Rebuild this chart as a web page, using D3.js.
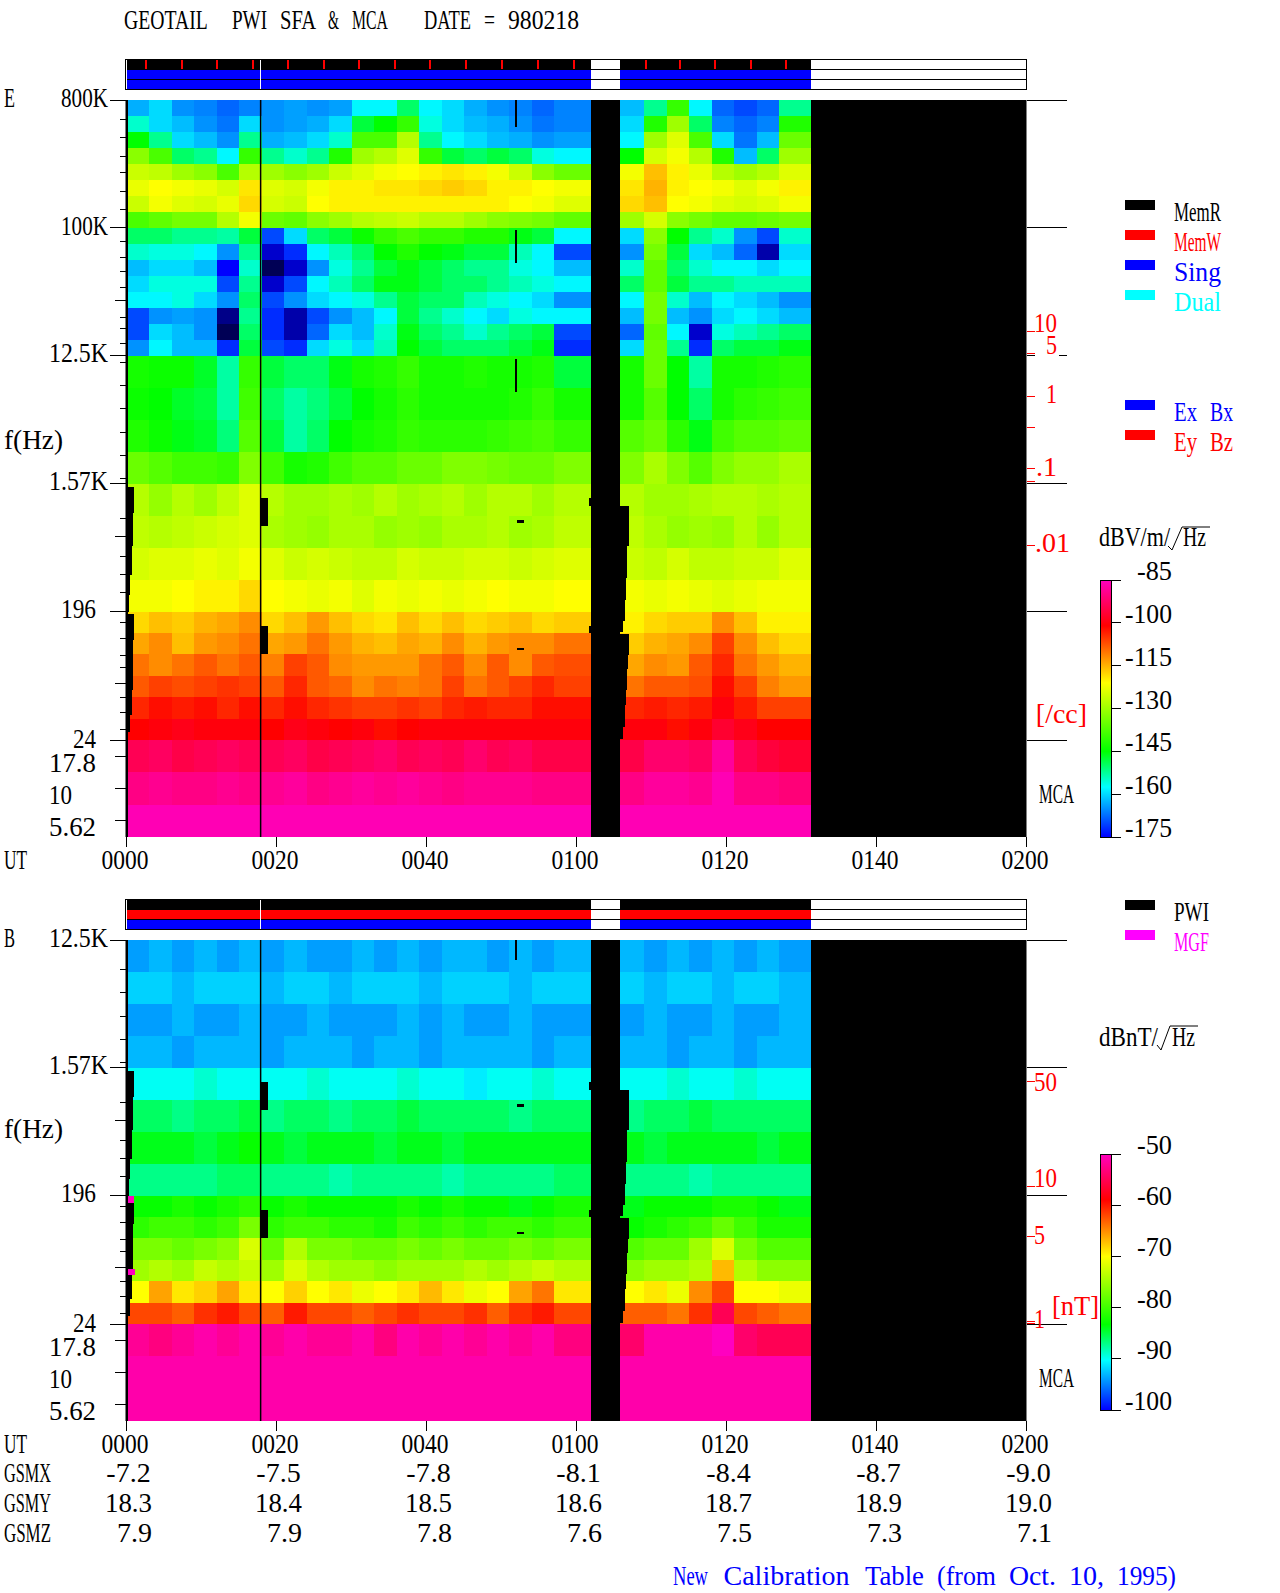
<!DOCTYPE html>
<html>
<head>
<meta charset="utf-8">
<style>
  body { margin: 0; background: #fff; }
  text { font-family: "Liberation Serif", serif; font-size: 28px; }
</style>
<script src="https://cdn.jsdelivr.net/npm/d3@7"></script>
</head>
<body>
<svg id="chart" width="1280" height="1593"></svg>
<script>
/* time columns of the spectrograms, minutes from 0000 UT */
const colStart = [0,3,6,9,12,15,18,21,24,27,30,33,36,39,42,45,48,51,54,57,65.8,69,72,75,78,81,84,87];
const colEnd = [3,6,9,12,15,18,21,24,27,30,33,36,39,42,45,48,51,54,57,61.9,69,72,75,78,81,84,87,91.3];

/* frequency row edges, Hz */
const freqEdges = [800000,617000,476000,367000,283000,218000,168000,130000,100000,77100,59500,45900,35400,27300,21000,16200,12500,7430,4420,2630,1570,934,556,330,196,139,98,69,49,34.6,24.414];
const bFreqEdges = [12500,7430,4420,2630,1570,934,556,330,196,139,98,69,49,34.6,24.414];
const mcaBands = ['17.8','10','5.62'];

/* E field, dBV/m/rtHz, one row per frequency band, top to bottom */
const eDb = [
[-163,-160,-165,-166,-168,-166,-165,-164,-165,-164,-158,-158,-150,-158,-160,-163,-165,-166,-168,-166,-162,-152,-140,-158,-168,-170,-168,-152],
[-155,-160,-162,-165,-167,-160,-165,-164,-163,-160,-148,-145,-140,-156,-160,-162,-163,-165,-167,-166,-160,-142,-130,-150,-166,-168,-166,-142],
[-145,-152,-160,-162,-165,-152,-163,-162,-160,-155,-138,-138,-128,-152,-158,-160,-162,-163,-165,-164,-158,-130,-124,-138,-160,-167,-162,-135],
[-132,-138,-150,-152,-158,-140,-152,-155,-152,-142,-130,-128,-124,-140,-148,-150,-148,-150,-156,-158,-145,-125,-122,-128,-142,-162,-150,-130],
[-126,-127,-130,-132,-138,-128,-130,-132,-130,-126,-124,-122,-121,-120,-119,-120,-122,-126,-132,-135,-122,-116,-120,-123,-128,-130,-128,-124],
[-123,-121,-122,-123,-125,-119,-124,-125,-122,-120,-120,-119,-119,-118,-117,-118,-120,-120,-121,-122,-119,-115,-120,-121,-122,-124,-122,-120],
[-126,-122,-124,-125,-123,-118,-125,-126,-121,-120,-120,-120,-120,-120,-120,-120,-120,-121,-122,-124,-118,-116,-121,-122,-124,-125,-124,-122],
[-138,-136,-134,-134,-128,-122,-135,-136,-132,-130,-128,-127,-126,-128,-128,-130,-132,-133,-134,-136,-130,-125,-132,-134,-136,-136,-135,-134],
[-150,-150,-152,-152,-153,-148,-170,-160,-150,-148,-144,-140,-138,-140,-140,-142,-142,-146,-148,-158,-160,-132,-145,-152,-155,-165,-170,-155],
[-155,-156,-156,-158,-165,-152,-178,-172,-158,-154,-150,-145,-142,-145,-146,-148,-148,-154,-158,-170,-165,-134,-148,-160,-162,-168,-180,-160],
[-162,-160,-160,-162,-175,-155,-185,-178,-165,-156,-152,-148,-146,-148,-150,-152,-152,-156,-158,-162,-155,-136,-150,-155,-158,-158,-160,-158],
[-160,-156,-156,-156,-170,-152,-178,-170,-158,-154,-150,-146,-146,-148,-150,-150,-152,-154,-156,-158,-150,-136,-148,-152,-152,-154,-154,-154],
[-158,-158,-156,-160,-165,-150,-170,-165,-160,-158,-156,-152,-148,-150,-150,-154,-156,-158,-160,-165,-158,-134,-155,-162,-158,-160,-162,-165],
[-170,-165,-164,-165,-182,-152,-172,-180,-170,-165,-162,-158,-148,-152,-155,-158,-160,-156,-158,-158,-162,-134,-162,-165,-160,-158,-160,-162],
[-170,-160,-162,-165,-185,-150,-172,-180,-168,-160,-162,-155,-146,-150,-152,-155,-152,-150,-148,-170,-168,-136,-158,-178,-156,-154,-152,-150],
[-165,-158,-162,-162,-172,-148,-170,-172,-160,-156,-160,-154,-145,-148,-150,-150,-150,-148,-146,-172,-160,-135,-152,-172,-150,-148,-148,-146],
[-143,-144,-144,-147,-153,-140,-148,-150,-150,-146,-143,-142,-140,-143,-143,-142,-143,-143,-142,-148,-143,-135,-145,-153,-143,-143,-142,-141],
[-144,-145,-147,-148,-153,-139,-150,-153,-151,-148,-145,-143,-141,-143,-143,-143,-143,-142,-140,-143,-143,-137,-145,-150,-143,-141,-140,-139],
[-142,-144,-146,-147,-151,-137,-148,-153,-150,-145,-143,-142,-140,-141,-141,-141,-140,-139,-138,-140,-137,-135,-141,-146,-139,-137,-137,-136],
[-135,-137,-139,-139,-140,-133,-139,-143,-142,-139,-137,-137,-135,-135,-133,-133,-134,-135,-135,-133,-133,-129,-133,-137,-133,-131,-131,-129],
[-128,-131,-128,-130,-127,-124,-128,-130,-130,-129,-130,-128,-130,-129,-128,-130,-128,-128,-130,-128,-128,-130,-130,-129,-128,-128,-129,-128],
[-127,-128,-127,-126,-125,-124,-129,-130,-131,-129,-129,-131,-130,-131,-129,-129,-128,-130,-129,-127,-127,-129,-131,-130,-131,-128,-131,-128],
[-125,-124,-124,-123,-124,-122,-124,-126,-125,-126,-127,-127,-125,-126,-126,-125,-125,-126,-125,-124,-126,-127,-125,-127,-127,-126,-126,-124],
[-122,-122,-121,-120,-120,-118,-121,-122,-123,-122,-124,-122,-123,-122,-123,-122,-121,-122,-122,-121,-122,-123,-122,-123,-124,-123,-122,-122],
[-118,-116,-117,-115,-114,-112,-118,-116,-113,-116,-118,-119,-116,-118,-116,-118,-117,-116,-118,-117,-120,-118,-117,-117,-112,-116,-120,-120],
[-114,-112,-116,-113,-112,-110,-114,-113,-110,-113,-115,-116,-114,-115,-112,-115,-113,-112,-112,-110,-117,-115,-114,-112,-106,-112,-116,-118],
[-110,-112,-110,-108,-110,-108,-111,-106,-108,-112,-113,-113,-113,-110,-108,-112,-108,-112,-108,-107,-114,-112,-113,-108,-104,-110,-113,-115],
[-108,-106,-107,-106,-105,-106,-108,-104,-108,-109,-112,-110,-111,-110,-106,-110,-108,-106,-104,-106,-110,-108,-108,-107,-102,-106,-111,-113],
[-104,-102,-103,-102,-104,-102,-104,-102,-104,-105,-106,-106,-105,-106,-104,-103,-104,-104,-102,-102,-104,-103,-104,-103,-100,-103,-106,-106],
[-101,-100,-99,-100,-100,-100,-101,-99,-100,-101,-100,-102,-101,-100,-100,-100,-100,-100,-100,-100,-100,-100,-102,-100,-97,-99,-101,-101]
];
const eMcaDb = [
[-94,-93,-95,-94,-93,-94,-94,-93,-95,-94,-93,-92,-94,-93,-94,-92,-94,-93,-95,-95,-95,-92,-92,-93,-88,-94,-96,-97],
[-90,-89,-90,-90,-89,-90,-89,-88,-90,-89,-88,-89,-88,-89,-90,-89,-89,-89,-90,-90,-90,-88,-88,-89,-86,-90,-90,-91],
[-86,-86,-86,-86,-86,-86,-86,-86,-86,-86,-86,-86,-86,-86,-86,-86,-86,-86,-86,-86,-86,-86,-86,-86,-86,-86,-86,-86]
];

/* B field, dBnT/rtHz */
const bDb = [
[-94,-93,-94,-93,-94,-93,-94,-93,-94,-94,-93,-94,-93,-94,-93,-93,-94,-93,-94,-93,-93,-94,-93,-94,-93,-94,-93,-94],
[-92,-92,-93,-92,-92,-92,-93,-92,-92,-93,-92,-92,-92,-93,-92,-92,-92,-93,-92,-92,-92,-93,-92,-92,-93,-92,-92,-93],
[-94,-94,-93,-94,-94,-93,-94,-94,-93,-94,-94,-94,-93,-94,-93,-94,-94,-93,-94,-94,-94,-93,-94,-94,-93,-94,-94,-93],
[-93,-93,-94,-93,-93,-93,-94,-93,-93,-93,-94,-93,-93,-94,-93,-93,-93,-93,-94,-93,-93,-93,-94,-93,-93,-94,-93,-93],
[-90,-90,-90,-89,-90,-90,-90,-90,-89,-90,-90,-90,-89,-90,-90,-91,-90,-90,-89,-90,-90,-90,-89,-90,-90,-89,-90,-90],
[-86,-86,-87,-86,-86,-85,-87,-86,-86,-87,-86,-86,-85,-86,-86,-86,-86,-87,-86,-86,-87,-86,-86,-85,-86,-86,-86,-86],
[-84,-84,-84,-85,-84,-83,-84,-85,-84,-84,-84,-85,-84,-84,-85,-84,-84,-84,-84,-84,-84,-85,-84,-84,-84,-84,-85,-84],
[-87,-87,-87,-87,-86,-86,-87,-87,-87,-88,-87,-87,-87,-87,-88,-87,-87,-87,-87,-86,-87,-87,-87,-88,-87,-87,-87,-87],
[-83,-83,-82,-83,-82,-81,-83,-82,-83,-83,-83,-83,-82,-83,-82,-83,-83,-84,-83,-82,-84,-83,-83,-83,-82,-82,-83,-84],
[-81,-80,-80,-81,-80,-77,-81,-80,-80,-81,-81,-82,-80,-81,-80,-81,-80,-80,-81,-80,-83,-82,-81,-80,-78,-80,-82,-82],
[-77,-77,-78,-77,-76,-72,-78,-74,-77,-77,-78,-78,-77,-78,-77,-78,-78,-77,-78,-77,-79,-78,-78,-75,-72,-77,-79,-79],
[-75,-74,-75,-73,-74,-73,-75,-72,-74,-75,-75,-76,-75,-75,-75,-74,-75,-74,-73,-74,-76,-75,-75,-74,-67,-74,-76,-76],
[-70,-66,-69,-68,-66,-69,-70,-68,-70,-69,-71,-70,-69,-67,-69,-71,-70,-66,-64,-69,-70,-69,-71,-65,-62,-70,-70,-71],
[-62,-62,-63,-61,-60,-62,-63,-60,-62,-62,-63,-62,-61,-62,-62,-61,-63,-61,-60,-62,-63,-63,-64,-61,-55,-62,-63,-64]
];
const bMcaDb = [
[-52,-53,-52,-51,-52,-51,-52,-51,-52,-52,-51,-53,-51,-52,-51,-52,-51,-52,-51,-53,-54,-51,-51,-51,-50,-54,-55,-55],
[-51,-51,-51,-51,-51,-51,-51,-51,-51,-51,-51,-51,-51,-51,-51,-51,-51,-51,-51,-51,-51,-51,-51,-51,-51,-51,-51,-51],
[-51,-51,-51,-51,-51,-51,-51,-51,-51,-51,-51,-51,-51,-51,-51,-51,-51,-51,-51,-51,-51,-51,-51,-51,-51,-51,-51,-51]
];

/* no-data blocks in both panels: [t0, t1, fHigh, fLow] */
const dropouts = [
[0,1,1500,980],[0,.87,980,744],[0,.8,744,574],[0,.67,574,358],[0,.53,358,259],[0,.35,259,196],
[0,1,189,124],[0,.93,124,82],[0,.8,82,55],[0,.67,55,36.6],[0,.47,36.6,28],[0,.2,28,24.414],
[17.85,18.9,1250,793],[17.85,18.9,155,99],[61.6,61.9,1250,1100],[61.6,61.9,155,138],
[65.8,67,1100,574],[65.8,66.73,574,340],[65.8,66.6,340,236],[65.8,66.47,236,170],[65.8,66.2,170,140],
[65.8,67,137,97],[65.8,66.87,97,77],[65.8,66.73,77,55],[65.8,66.6,55,43],[65.8,66.47,43,30],[65.8,66.2,30,25],
[52,53,875,835],[52,53,108,105]
];
/* thin dropouts of one panel only */
const eThinDropouts = [[51.8,52,800000,520000],[51.8,52,97000,57000],[51.8,52,12000,7000]];
const bThinDropouts = [[51.8,52,12500,9000]];
/* overflow blocks at the start of the B sweep */
const bHotBlocks = [[.1,1,196,175],[.1,1.1,60,54]];
const spikeTime = 17.85;

/* mode bars */
const barSpans = [[0,61.9],[65.8,91.3]];
const memTicks = [2.6,7.4,12.1,16.9,21.5,26.3,31,35.8,40.5,45.3,50,54.9,59.7,69.2,73.8,78.5,83.2,87.9];

/* axes */
const timeTicks = [0,20,40,60,80,100,120];
const timeLabels = ['0000','0020','0040','0100','0120','0140','0200'];
const gsmx = ['-7.2','-7.5','-7.8','-8.1','-8.4','-8.7','-9.0'];
const gsmy = ['18.3','18.4','18.5','18.6','18.7','18.9','19.0'];
const gsmz = ['7.9','7.9','7.8','7.6','7.5','7.3','7.1'];
const majorFreq = [800000,100000,12500,1570,196,24.414];
const minorFreq = [587000,438000,322000,248000,182000,136000,80000,62000,49000,38000,23500,19400,15200,11300,7800,5300,3600,2500,1700,890,479,358,267,164,126,97,79,49,38,29];
const longFreq = [31000,664,61];
const eFreqLabels = [['800K',800000,61,7],['100K',100000,61,7],['12.5K',12500,49,6],['1.57K',1570,49,6],['196',196,61,6],['24',24.414,73,8]];
const bFreqLabels = [['12.5K',12500,49,7],['1.57K',1570,49,6],['196',196,61,6],['24',24.414,73,8]];
const eRedTicks = [18500,13100,6500,3900,2000,1640,580];
const eRedLabels = [['10',1034,332],['5',1046,354],['1',1046,403],['.1',1035,476],['.01',1035,552],['[/cc]',1032,723]];
const bRedTicks = [1250,227,101,25.3,24.6];
const bRedLabels = [['50',1034,1091],['10',1034,1187],['5',1034,1244],['1',1034,1328],['[nT]',1052,1315]];

/* colour bars */
const eBarTicks = [-85,-100,-115,-130,-145,-160,-175];
const bBarTicks = [-50,-60,-70,-80,-90,-100];
const barColors = ['#000000','#0000ff','#00ffff','#00ff00','#ffff00','#ff0000','#ff00c0'];
const eColorStops = [-190,-175,-157.5,-145,-121,-101,-85];
const bColorStops = [-108,-100,-90.3,-83.3,-70,-58.9,-50];

/* legends */
const legendTop = [['MemR','#000000',200],['MemW','#ff0000',230],['Sing','#0000ff',260],['Dual','#00ffff',290],['Ex Bx','#0000ff',400],['Ey Bz','#ff0000',430]];
const legendBottom = [['PWI','#000000',900],['MGF','#ff00ff',930]];

const CELL = 12;
const svg = d3.select('#chart');
const ctx = document.createElement('canvas').getContext('2d');
ctx.font = '28px "Liberation Serif"';

// Fixed pitch text: each word is squeezed into its cells, like the plotter font.
function label(str, x, y, color) {
    const t = svg.append('text').attr('y', y).attr('fill', color || '#000');
    const re = /\S+|\s+/g;
    let m;
    while ((m = re.exec(str)) !== null) {
        const word = m[0];
        if (!word.trim()) {
            t.append('tspan').text(' ');
            continue;
        }
        const cells = word.length * CELL - 1;
        const len = word === '-' ? cells : Math.min(ctx.measureText(word).width, cells);
        t.append('tspan')
            .attr('x', x + m.index * CELL + (cells - len) / 2)
            .attr('textLength', len)
            .attr('lengthAdjust', 'spacingAndGlyphs')
            .text(word);
    }
    return t;
}

function hline(x1, x2, y, color) {
    svg.append('line').attr('x1', x1).attr('x2', x2).attr('y1', y).attr('y2', y)
        .attr('stroke', color || '#000').attr('shape-rendering', 'crispEdges');
}

const x = d3.scaleLinear().domain([0, 120]).range([126.5, 1026.5]);

function cells(rows, y0, y1, color) {
    rows.forEach((row, r) => {
        svg.append('g').selectAll('rect').data(row).enter().append('rect')
            .attr('x', (d, i) => x(colStart[i]))
            .attr('width', (d, i) => x(colEnd[i]) - x(colStart[i]))
            .attr('y', y0(r))
            .attr('height', y1(r) - y0(r))
            .attr('fill', (d) => color(d))
            .attr('shape-rendering', 'crispEdges');
    });
}

function blocks(list, y, fill) {
    svg.append('g').selectAll('rect').data(list).enter().append('rect')
        .attr('x', (d) => x(d[0])).attr('width', (d) => x(d[1]) - x(d[0]))
        .attr('y', (d) => y(d[2])).attr('height', (d) => y(d[3]) - y(d[2]))
        .attr('fill', fill).attr('shape-rendering', 'crispEdges');
}

function panel(opt) {
    const y = d3.scaleLog().domain([opt.edges[0], 24.414]).range([opt.top, opt.mid]);
    const band = d3.scaleBand().domain(mcaBands).range([opt.mid, opt.bottom]);
    const color = d3.scaleLinear().domain(opt.stops).range(barColors).clamp(true);

    svg.append('rect').attr('x', x(0)).attr('y', opt.top).attr('width', x(120) - x(0))
        .attr('height', opt.bottom - opt.top).attr('fill', '#000');
    cells(opt.rows, (r) => y(opt.edges[r]), (r) => y(opt.edges[r + 1]), color);
    cells(opt.mca, (r) => band(mcaBands[r]), (r) => band(mcaBands[r]) + band.bandwidth(), color);

    blocks(dropouts, y, '#000');
    blocks(opt.thin, y, '#000');
    if (opt.hot) blocks(opt.hot, y, '#ff00c0');

    // left border and the 0018 spike
    svg.append('rect').attr('x', x(0) - 1).attr('y', opt.top).attr('width', 2.5)
        .attr('height', opt.bottom - opt.top).attr('fill', '#000');
    svg.append('rect').attr('x', x(spikeTime) - 0.5).attr('y', opt.top).attr('width', 1.5)
        .attr('height', opt.bottom - opt.top).attr('fill', '#000');

    // frequency ticks
    majorFreq.filter((f) => f <= opt.edges[0]).forEach((f) => {
        hline(110, 126, y(f));
        hline(x(120), 1067, y(f));
    });
    hline(110, 126, opt.top);
    minorFreq.filter((f) => f < opt.edges[0] * 0.88).forEach((f) => hline(120, 126, y(f)));
    longFreq.filter((f) => f < opt.edges[0]).forEach((f) => hline(115, 126, y(f)));
    mcaBands.forEach((b) => hline(115, 126, band(b) + band.bandwidth() / 2));
    opt.freqLabels.forEach((d) => label(d[0], d[2], y(d[1]) + d[3]));
    mcaBands.forEach((b) => label(b, 49, band(b) + band.bandwidth() / 2 + 15.5));

    // density or field scale in red
    if (opt.hole) {
        svg.append('rect').attr('x', opt.hole[0]).attr('y', opt.hole[1]).attr('width', opt.hole[2])
            .attr('height', 6).attr('fill', '#fff');
    }
    opt.redTicks.forEach((f) => hline(x(120), x(120) + 8, y(f), '#f00'));
    opt.redLabels.forEach((d) => label(d[0], d[1], d[2], '#f00'));
    label('MCA', 1039, opt.mcaBase);

    // time axis
    timeTicks.forEach((t, i) => {
        svg.append('line').attr('x1', x(t)).attr('x2', x(t)).attr('y1', opt.bottom).attr('y2', opt.bottom + 10)
            .attr('stroke', '#000').attr('shape-rendering', 'crispEdges');
        label(timeLabels[i], x(t) - 25, opt.bottom + 32);
    });
    label('UT', 4, opt.bottom + 32);
    label(opt.name, 4, opt.top + 7);
    label('f(Hz)', 4, opt.fBase);

    // mode bars
    const rowY = d3.scaleBand().domain(d3.range(3)).range([opt.barTop, opt.barTop + 30]);
    opt.barColors.forEach((c, r) => {
        barSpans.forEach((s) => {
            svg.append('rect').attr('x', x(s[0])).attr('width', x(s[1]) - x(s[0]))
                .attr('y', rowY(r)).attr('height', rowY.bandwidth()).attr('fill', c)
                .attr('shape-rendering', 'crispEdges');
        });
    });
    [1, 2].forEach((r) => hline(x(0), x(120), rowY(r)));
    svg.append('rect').attr('x', x(0) - 1).attr('y', opt.barTop).attr('width', x(120) - x(0) + 1).attr('height', 30)
        .attr('fill', 'none').attr('stroke', '#000').attr('shape-rendering', 'crispEdges');
    [0, spikeTime].forEach((t) => {
        svg.append('line').attr('x1', x(t)).attr('x2', x(t)).attr('y1', opt.barTop + 1).attr('y2', opt.barTop + 30)
            .attr('stroke', '#fff').attr('shape-rendering', 'crispEdges');
    });
    if (opt.memTicks) {
        svg.append('g').selectAll('line').data(opt.memTicks).enter().append('line')
            .attr('x1', (d) => x(d)).attr('x2', (d) => x(d))
            .attr('y1', opt.barTop + 1).attr('y2', opt.barTop + 10)
            .attr('stroke', '#f00').attr('stroke-width', 2).attr('shape-rendering', 'crispEdges');
    }

    // colour bar
    const barY = d3.scaleLinear().domain([opt.barTicks[0], opt.barTicks[opt.barTicks.length - 1]]).range(opt.barRange);
    const gradId = 'grad' + opt.name;
    const grad = svg.append('defs').append('linearGradient').attr('id', gradId)
        .attr('x1', 0).attr('x2', 0).attr('y1', 0).attr('y2', 1);
    const visible = opt.stops.slice(1).reverse();
    const visColors = barColors.slice(1).reverse();
    visible.forEach((v, i) => {
        grad.append('stop').attr('offset', (barY(v) - opt.barRange[0]) / (opt.barRange[1] - opt.barRange[0]))
            .attr('stop-color', visColors[i]);
    });
    svg.append('rect').attr('x', 1100.5).attr('y', opt.barRange[0]).attr('width', 11)
        .attr('height', opt.barRange[1] - opt.barRange[0]).attr('fill', `url(#${gradId})`)
        .attr('stroke', '#000').attr('shape-rendering', 'crispEdges');
    opt.barTicks.forEach((v) => {
        hline(1112, 1121, barY(v));
        const s = String(v);
        label(s, 1173 - s.length * CELL, barY(v));
    });
}

panel({
    name: 'E', top: 100, mid: 740, bottom: 837, barTop: 59, fBase: 449,
    edges: freqEdges, rows: eDb, mca: eMcaDb, stops: eColorStops, thin: eThinDropouts,
    freqLabels: eFreqLabels, redTicks: eRedTicks, redLabels: eRedLabels,
    hole: [1035, 353, 24], mcaBase: 803, barColors: ['#000000', '#0000ff', '#0000ff'], memTicks: memTicks,
    barTicks: eBarTicks, barRange: [580, 837]
});
panel({
    name: 'B', top: 940, mid: 1324, bottom: 1421, barTop: 899, fBase: 1138,
    edges: bFreqEdges, rows: bDb, mca: bMcaDb, stops: bColorStops, thin: bThinDropouts, hot: bHotBlocks,
    freqLabels: bFreqLabels, redTicks: bRedTicks, redLabels: bRedLabels,
    mcaBase: 1387, barColors: ['#000000', '#ff0000', '#0000ff'],
    barTicks: bBarTicks, barRange: [1154, 1410]
});

// Orbit table under the bottom panel, numbers end at the same column
[['GSMX', gsmx, 1482], ['GSMY', gsmy, 1512], ['GSMZ', gsmz, 1542]].forEach((d) => {
    label(d[0], 4, d[2]);
    d[1].forEach((v, i) => label(v, x(timeTicks[i]) + 26.5 - v.length * CELL, d[2]));
});

// Legends
legendTop.concat(legendBottom).forEach((d) => {
    svg.append('rect').attr('x', 1125).attr('y', d[2]).attr('width', 30).attr('height', 10).attr('fill', d[1]);
    label(d[0], 1174, d[2] + 21, d[1]);
});

// Colour bar titles with a hand drawn root sign
label('dBV/m/', 1099, 546);
label('Hz', 1183, 546);
svg.append('path').attr('d', 'M1168,546L1172,550L1182,527H1210').attr('fill', 'none').attr('stroke', '#000');
label('dBnT/', 1099, 1046);
label('Hz', 1172, 1046);
svg.append('path').attr('d', 'M1157,1045L1161,1050L1170,1026H1198').attr('fill', 'none').attr('stroke', '#000');

label('GEOTAIL  PWI SFA & MCA   DATE = 980218', 124, 29);
label('New Calibration Table (from Oct. 10, 1995)', 673, 1585, '#0000ff');
</script>
</body>
</html>
